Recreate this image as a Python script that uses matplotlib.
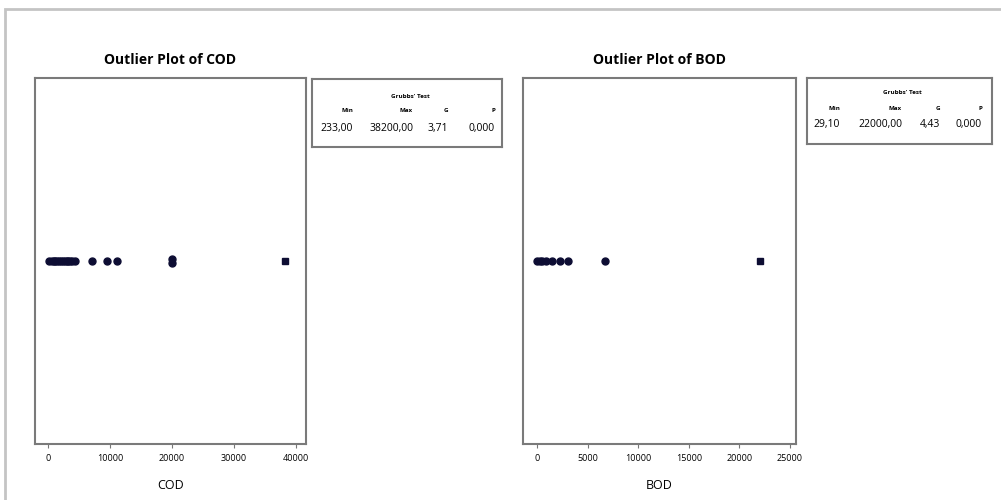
import matplotlib.pyplot as plt
from matplotlib.patches import Rectangle

# valores (COD e BOD)
cod_values = [233, 600, 900, 1200, 1500, 1800, 2100, 2400, 2700, 3000, 3300, 3600, 3900, 4300, 7100, 9500, 11100, 20000, 20000]
cod_y = [0, 0, 0, 0, 0, 0, 0, 0, 0, 0, 0, 0, 0, 0, 0, 0, 0, 0.01, -0.01]
cod_outlier = [38200]

bod_values = [29.1, 300, 500, 900, 1450, 2280, 3070, 6700]
bod_y = [0, 0, 0, 0, 0, 0, 0, 0]
bod_outlier = [22000]

cod_ticks = [0, 10000, 20000, 30000, 40000]
bod_ticks = [0, 5000, 10000, 15000, 20000, 25000]

cod_test = [233.00, 38200.00, 3.71, 0.000]
bod_test = [29.10, 22000.00, 4.43, 0.000]
test_headers = ['Min', 'Max', 'G', 'P']

plt.rcParams['font.family'] = ['Open Sans', 'DejaVu Sans']

fig = plt.figure(figsize=(10.01, 5), dpi=100)
W, H = 1001.0, 500.0

# moldura cinza em volta de tudo
fig.patches.append(Rectangle((5 / W, -0.1), 1.2, 1 - 9 / H + 0.1, transform=fig.transFigure,
                             fill=False, edgecolor='#c4c4c4', linewidth=2))


def painel(x0, x1, titulo, rotulo, valores, ys, outlier, ticks, xlim):
    ax = fig.add_axes([x0 / W, 1 - 444 / H, (x1 - x0) / W, (444 - 78) / H])
    ax.plot(valores, ys, 'o', color='#0d0d33', ms=5, mec='#0d0d33')
    ax.plot(outlier, [0] * len(outlier), 's', color='#0d0d33', ms=5)
    ax.set_xlim(xlim)
    ax.set_ylim(-1, 1)
    ax.set_yticks([])
    ax.set_xticks(ticks)
    ax.set_xticklabels([str(t) for t in ticks], fontsize=6.5)
    ax.tick_params(axis='x', length=3, width=0.8, color='#777777', pad=4)
    for s in ax.spines.values():
        s.set_color('#7a7a7a')
        s.set_linewidth(1.5)
    ax.set_title(titulo, fontsize=10, fontweight='bold', pad=10)
    ax.set_xlabel(rotulo, fontsize=9, labelpad=12)
    return ax


def caixa_teste(x0, x1, y0, y1, valores, direitas, y_txt):
    tx = fig.add_axes([x0 / W, 1 - y1 / H, (x1 - x0) / W, (y1 - y0) / H])
    tx.set_xlim(x0, x1)
    tx.set_ylim(y1, y0)
    tx.set_xticks([])
    tx.set_yticks([])
    for s in tx.spines.values():
        s.set_color('#7a7a7a')
        s.set_linewidth(1.5)
    tx.text((x0 + x1) / 2 + 3, y_txt[0], "Grubbs' Test", fontsize=4.5, fontweight='bold',
            ha='center', va='center')
    fmt = ['{:.2f}', '{:.2f}', '{:.2f}', '{:.3f}']
    for h, v, f, xr in zip(test_headers, valores, fmt, direitas):
        tx.text(xr, y_txt[1], h, fontsize=4.5, fontweight='bold', ha='right', va='center')
        tx.text(xr, y_txt[2], f.format(v).replace('.', ','), fontsize=7.5, ha='right', va='center')


painel(35, 306, 'Outlier Plot of COD', 'COD', cod_values, cod_y, cod_outlier, cod_ticks, (-2100, 41600))
painel(523, 796, 'Outlier Plot of BOD', 'BOD', bod_values, bod_y, bod_outlier, bod_ticks, (-1400, 25600))

caixa_teste(312, 502, 79, 147, cod_test, [353, 413, 448, 495], [96, 110, 128])
caixa_teste(807, 992, 78, 144, bod_test, [840, 902, 940, 982], [93, 108, 125])

plt.savefig('out.png', dpi=100)
